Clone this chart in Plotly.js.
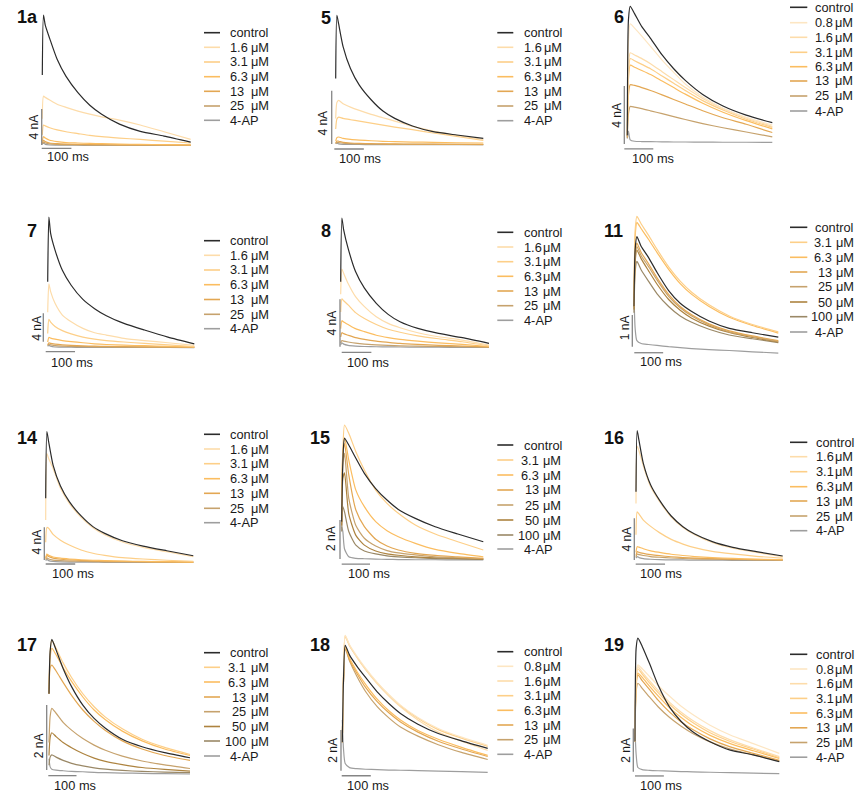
<!DOCTYPE html>
<html><head><meta charset="utf-8">
<script src="https://cdn.plot.ly/plotly-3.0.1.min.js"></script>
<style>html,body{margin:0;padding:0;background:#fff}#chart{width:856px;height:797px}</style>
</head><body><div id="chart"></div>
<script>
// time grid (ms) shared by all traces
const T = [0, 4, 10, 25, 50, 80, 120, 160, 200, 260, 330, 410, 500];

// ---- panel 1a (nA)
const labels1a = ['control','1.6','3.1','6.3','13','25','4-AP'];
const I1a = [
  [7.85, 14.5, 13.4, 11.9, 9.6, 7.7, 5.9, 4.5, 3.5, 2.4, 1.6, 1.07, 0.4],
  [3.0, 5.5, 5.37, 5.07, 4.6, 4.26, 3.85, 3.5, 3.2, 2.85, 2.3, 1.55, 0.7],
  [1.2, 2.3, 2.2, 2.0, 1.75, 1.55, 1.35, 1.15, 1.0, 0.85, 0.7, 0.5, 0.3],
  [0.5, 1.0, 0.85, 0.6, 0.45, 0.35, 0.3, 0.25, 0.22, 0.18, 0.15, 0.12, 0.1],
  [0.3, 0.6, 0.45, 0.3, 0.22, 0.18, 0.15, 0.13, 0.11, 0.1, 0.09, 0.08, 0.07],
  [0.2, 0.4, 0.3, 0.2, 0.15, 0.12, 0.1, 0.09, 0.08, 0.07, 0.06, 0.05, 0.05],
  [0.15, 0.3, 0.15, 0.08, 0.06, 0.05, 0.05, 0.04, 0.04, 0.03, 0.03, 0.03, 0.02]
];
// ---- panel 5
const labels5 = ['control','1.6','3.1','6.3','13','25','4-AP'];
const I5 = [
  [5.0, 9.75, 9.1, 7.4, 5.75, 4.5, 3.4, 2.55, 2.0, 1.43, 1.0, 0.75, 0.5],
  [2.0, 3.2, 3.35, 3.1, 2.85, 2.6, 2.3, 2.05, 1.8, 1.4, 1.05, 0.72, 0.4],
  [1.2, 1.95, 2.1, 2.0, 1.9, 1.8, 1.65, 1.5, 1.35, 1.15, 0.9, 0.65, 0.35],
  [0.3, 0.55, 0.6, 0.5, 0.42, 0.37, 0.32, 0.28, 0.25, 0.22, 0.2, 0.17, 0.15],
  [0.15, 0.3, 0.28, 0.2, 0.15, 0.12, 0.1, 0.09, 0.08, 0.07, 0.06, 0.05, 0.05],
  [0.1, 0.2, 0.18, 0.13, 0.1, 0.08, 0.07, 0.06, 0.05, 0.05, 0.04, 0.04, 0.03],
  [0.1, 0.15, 0.08, 0.05, 0.04, 0.04, 0.03, 0.03, 0.03, 0.02, 0.02, 0.02, 0.02]
];
// ---- panel 6
const labels6 = ['control','0.8','1.6','3.1','6.3','13','25','4-AP'];
const I6 = [
  [0.5, 8.5, 9.4, 8.9, 8.0, 7.2, 6.05, 5.1, 4.3, 3.33, 2.53, 1.9, 1.38],
  [0.5, 7.0, 8.2, 7.9, 7.35, 6.65, 5.7, 4.85, 4.05, 3.15, 2.38, 1.75, 1.22],
  [0.5, 5.0, 6.2, 6.05, 5.8, 5.45, 4.9, 4.35, 3.8, 3.05, 2.35, 1.7, 1.12],
  [0.5, 4.8, 5.8, 5.65, 5.4, 5.1, 4.6, 4.1, 3.6, 2.9, 2.25, 1.62, 1.06],
  [0.5, 4.4, 5.35, 5.2, 4.98, 4.7, 4.25, 3.8, 3.35, 2.72, 2.1, 1.52, 0.95],
  [0.4, 3.3, 4.0, 3.95, 3.8, 3.6, 3.3, 2.98, 2.67, 2.2, 1.72, 1.27, 0.7],
  [0.3, 2.0, 2.5, 2.45, 2.35, 2.2, 2.0, 1.8, 1.6, 1.32, 1.03, 0.74, 0.4],
  [0.3, 0.8, 0.2, 0.1, 0.08, 0.07, 0.06, 0.05, 0.05, 0.04, 0.03, 0.03, 0.02]
];
// ---- panel 7
const labels7 = ['control','1.6','3.1','6.3','13','25','4-AP'];
const I7 = [
  [9.3, 18.4, 16.1, 13.75, 10.9, 8.8, 6.8, 5.5, 4.5, 3.43, 2.49, 1.5, 0.55],
  [5.0, 9.0, 7.9, 6.25, 4.6, 3.66, 2.72, 2.1, 1.78, 1.31, 0.99, 0.7, 0.33],
  [2.0, 4.0, 3.6, 3.0, 2.4, 1.95, 1.5, 1.2, 1.0, 0.8, 0.6, 0.4, 0.15],
  [0.8, 1.45, 1.35, 1.2, 1.0, 0.85, 0.7, 0.55, 0.45, 0.35, 0.28, 0.2, 0.12],
  [0.4, 0.7, 0.6, 0.5, 0.4, 0.32, 0.26, 0.21, 0.18, 0.15, 0.12, 0.1, 0.07],
  [0.3, 0.5, 0.4, 0.3, 0.22, 0.18, 0.15, 0.13, 0.11, 0.1, 0.08, 0.07, 0.05],
  [0.2, 0.35, 0.2, 0.1, 0.07, 0.06, 0.05, 0.05, 0.04, 0.04, 0.03, 0.03, 0.02]
];
// ---- panel 8
const labels8 = ['control','1.6','3.1','6.3','13','25','4-AP'];
const I8 = [
  [5.55, 10.9, 9.9, 8.35, 6.4, 5.0, 3.73, 2.8, 2.18, 1.62, 1.2, 0.84, 0.36],
  [4.5, 6.6, 6.25, 5.4, 4.3, 3.45, 2.6, 2.04, 1.68, 1.26, 0.92, 0.64, 0.22],
  [3.0, 4.1, 3.95, 3.6, 2.95, 2.45, 1.95, 1.55, 1.3, 1.0, 0.75, 0.5, 0.15],
  [1.6, 2.27, 2.15, 1.95, 1.6, 1.35, 1.05, 0.85, 0.7, 0.55, 0.4, 0.28, 0.1],
  [0.9, 1.26, 1.18, 1.05, 0.85, 0.7, 0.55, 0.45, 0.36, 0.28, 0.2, 0.14, 0.07],
  [0.4, 0.6, 0.55, 0.48, 0.38, 0.3, 0.24, 0.19, 0.16, 0.13, 0.1, 0.08, 0.05],
  [0.25, 0.4, 0.3, 0.2, 0.14, 0.1, 0.08, 0.07, 0.06, 0.05, 0.04, 0.03, 0.03]
];
// ---- panel 11
const labels11 = ['control','3.1','6.3','13','25','50','100','4-AP'];
const I11 = [
  [1.5, 3.3, 3.7, 3.39, 3.05, 2.57, 2.0, 1.6, 1.34, 1.04, 0.81, 0.67, 0.53],
  [1.5, 3.9, 4.34, 4.1, 3.75, 3.3, 2.75, 2.3, 1.95, 1.55, 1.2, 0.93, 0.7],
  [1.5, 3.7, 4.15, 3.95, 3.62, 3.2, 2.67, 2.22, 1.88, 1.5, 1.16, 0.9, 0.66],
  [1.5, 3.1, 3.5, 3.2, 2.85, 2.4, 1.88, 1.5, 1.24, 0.95, 0.73, 0.57, 0.42],
  [1.5, 3.0, 3.39, 3.1, 2.76, 2.33, 1.82, 1.46, 1.2, 0.92, 0.7, 0.55, 0.4],
  [1.4, 2.9, 3.28, 3.0, 2.63, 2.2, 1.72, 1.38, 1.13, 0.88, 0.68, 0.52, 0.38],
  [1.3, 2.6, 2.92, 2.65, 2.3, 1.9, 1.5, 1.2, 1.0, 0.78, 0.6, 0.48, 0.36],
  [1.9, 0.8, 0.42, 0.33, 0.3, 0.27, 0.23, 0.2, 0.17, 0.14, 0.11, 0.07, 0.03]
];
// ---- panel 14
const labels14 = ['control','1.6','3.1','6.3','13','25','4-AP'];
const I14 = [
  [7.85, 16.0, 14.75, 11.9, 9.35, 7.44, 5.7, 4.4, 3.58, 2.68, 2.03, 1.46, 0.85],
  [5.2, 13.3, 12.7, 11.5, 9.07, 7.24, 5.53, 4.27, 3.41, 2.52, 1.87, 1.34, 0.73],
  [2.5, 4.3, 4.2, 3.45, 2.75, 2.15, 1.55, 1.15, 0.9, 0.62, 0.45, 0.3, 0.15],
  [0.6, 1.06, 0.9, 0.7, 0.55, 0.45, 0.36, 0.3, 0.25, 0.2, 0.16, 0.12, 0.08],
  [0.5, 0.9, 0.75, 0.55, 0.42, 0.34, 0.27, 0.22, 0.18, 0.15, 0.12, 0.1, 0.07],
  [0.35, 0.6, 0.45, 0.32, 0.25, 0.2, 0.16, 0.13, 0.11, 0.09, 0.08, 0.07, 0.05],
  [0.25, 0.4, 0.25, 0.15, 0.1, 0.08, 0.07, 0.06, 0.05, 0.05, 0.04, 0.03, 0.03]
];
// ---- panel 15
const labels15 = ['control','3.1','6.3','13','25','50','100','4-AP'];
const I15 = [
  [2.0, 5.0, 6.27, 5.93, 5.25, 4.48, 3.7, 3.11, 2.63, 2.17, 1.74, 1.37, 0.97],
  [2.0, 5.5, 6.96, 6.53, 5.59, 4.65, 3.62, 2.94, 2.43, 1.83, 1.37, 0.97, 0.55],
  [2.0, 5.5, 6.3, 5.16, 3.62, 2.77, 2.0, 1.54, 1.23, 0.89, 0.58, 0.38, 0.2],
  [2.0, 5.5, 6.0, 4.4, 2.6, 1.75, 1.1, 0.75, 0.55, 0.38, 0.27, 0.2, 0.12],
  [2.0, 5.0, 5.5, 3.2, 1.8, 1.15, 0.75, 0.52, 0.4, 0.3, 0.2, 0.15, 0.1],
  [1.8, 4.2, 4.5, 2.4, 1.3, 0.8, 0.5, 0.35, 0.28, 0.2, 0.15, 0.12, 0.08],
  [1.5, 2.77, 2.5, 1.5, 0.8, 0.5, 0.35, 0.25, 0.2, 0.15, 0.11, 0.09, 0.07],
  [1.74, 1.5, 0.6, 0.2, 0.12, 0.1, 0.08, 0.07, 0.06, 0.05, 0.05, 0.04, 0.04]
];
// ---- panel 16
const labels16 = ['control','1.6','3.1','6.3','13','25','4-AP'];
const I16 = [
  [6.63, 12.5, 11.6, 9.36, 7.28, 5.83, 4.3, 3.27, 2.56, 1.83, 1.28, 0.87, 0.45],
  [5.5, 11.0, 10.6, 9.1, 7.1, 5.7, 4.2, 3.2, 2.5, 1.75, 1.2, 0.8, 0.38],
  [2.5, 4.7, 4.5, 3.9, 3.3, 2.7, 2.05, 1.6, 1.25, 0.9, 0.65, 0.42, 0.25],
  [0.8, 1.35, 1.3, 1.15, 0.95, 0.8, 0.62, 0.5, 0.4, 0.3, 0.22, 0.15, 0.1],
  [0.5, 0.87, 0.8, 0.7, 0.58, 0.48, 0.38, 0.3, 0.25, 0.19, 0.15, 0.11, 0.08],
  [0.35, 0.64, 0.58, 0.5, 0.4, 0.33, 0.26, 0.21, 0.17, 0.14, 0.11, 0.08, 0.06],
  [0.25, 0.4, 0.3, 0.2, 0.14, 0.1, 0.08, 0.07, 0.06, 0.05, 0.04, 0.04, 0.03]
];
// ---- panel 17
const labels17 = ['control','3.1','6.3','13','25','50','100','4-AP'];
const I17 = [
  [2.5, 3.8, 4.17, 3.85, 3.28, 2.72, 2.15, 1.74, 1.44, 1.1, 0.87, 0.69, 0.53],
  [2.5, 3.8, 4.15, 3.9, 3.45, 3.0, 2.5, 2.1, 1.78, 1.42, 1.1, 0.85, 0.63],
  [2.5, 3.6, 3.9, 3.7, 3.3, 2.88, 2.4, 2.0, 1.7, 1.35, 1.05, 0.8, 0.6],
  [2.5, 3.3, 3.38, 3.2, 2.85, 2.45, 2.0, 1.65, 1.37, 1.05, 0.8, 0.6, 0.45],
  [1.0, 1.8, 2.05, 1.9, 1.62, 1.38, 1.12, 0.92, 0.76, 0.58, 0.43, 0.31, 0.2],
  [0.6, 1.15, 1.3, 1.18, 1.0, 0.84, 0.66, 0.52, 0.42, 0.32, 0.23, 0.17, 0.12],
  [0.3, 0.55, 0.62, 0.55, 0.45, 0.36, 0.28, 0.22, 0.18, 0.14, 0.11, 0.09, 0.07],
  [0.5, 0.25, 0.18, 0.15, 0.13, 0.11, 0.1, 0.08, 0.07, 0.06, 0.05, 0.04, 0.03]
];
// ---- panel 18
const labels18 = ['control','0.8','1.6','3.1','6.3','13','25','4-AP'];
const I18 = [
  [1.5, 4.5, 6.28, 5.79, 5.25, 4.69, 3.98, 3.41, 2.92, 2.39, 1.93, 1.57, 1.2],
  [1.5, 4.8, 6.77, 6.3, 5.75, 5.15, 4.45, 3.85, 3.33, 2.72, 2.18, 1.75, 1.35],
  [1.5, 4.8, 6.75, 6.25, 5.68, 5.08, 4.38, 3.78, 3.25, 2.6, 2.0, 1.55, 1.1],
  [1.5, 4.7, 6.7, 6.25, 5.7, 5.1, 4.42, 3.82, 3.3, 2.68, 2.12, 1.7, 1.3],
  [1.5, 4.5, 6.2, 5.65, 5.0, 4.35, 3.62, 3.05, 2.6, 2.08, 1.65, 1.25, 0.85],
  [1.5, 4.5, 6.2, 5.55, 4.9, 4.2, 3.5, 2.95, 2.5, 2.0, 1.55, 1.17, 0.8],
  [1.5, 4.4, 6.1, 5.5, 4.75, 4.0, 3.25, 2.7, 2.25, 1.8, 1.38, 1.0, 0.65],
  [2.6, 1.2, 0.45, 0.25, 0.2, 0.17, 0.15, 0.13, 0.12, 0.1, 0.08, 0.05, 0.02]
];
// ---- panel 19
const labels19 = ['control','0.8','1.6','3.1','6.3','13','25','4-AP'];
const I19 = [
  [1.5, 5.8, 6.26, 5.88, 5.1, 4.1, 3.08, 2.42, 1.95, 1.49, 1.1, 0.88, 0.57],
  [1.5, 4.6, 5.03, 4.85, 4.5, 4.08, 3.58, 3.12, 2.74, 2.25, 1.8, 1.4, 0.95],
  [1.5, 4.5, 4.95, 4.7, 4.3, 3.85, 3.3, 2.85, 2.47, 2.0, 1.57, 1.2, 0.8],
  [1.5, 4.4, 4.85, 4.6, 4.2, 3.75, 3.2, 2.75, 2.37, 1.9, 1.5, 1.15, 0.75],
  [1.5, 4.2, 4.65, 4.45, 4.05, 3.6, 3.05, 2.6, 2.22, 1.78, 1.4, 1.07, 0.72],
  [1.5, 4.1, 4.57, 4.3, 3.9, 3.4, 2.85, 2.4, 2.05, 1.62, 1.25, 0.95, 0.63],
  [1.5, 3.8, 4.18, 3.95, 3.55, 3.1, 2.6, 2.2, 1.87, 1.48, 1.15, 0.88, 0.6],
  [2.0, 0.9, 0.3, 0.2, 0.17, 0.15, 0.13, 0.11, 0.1, 0.08, 0.06, 0.04, 0.02]
];

// colours per condition
const COLORS = {
  'control':'#2b2b2b', '0.8':'#fde6c3', '1.6':'#fddcaa', '3.1':'#fdcf88',
  '6.3':'#fbbd60', '13':'#e3a753', '25':'#c6a26d', '50':'#ad833f',
  '100':'#9a8866', '4-AP':'#9e9e9e'
};

// layout geometry (pixels in the 856x797 page)
const W = 856, H = 797;
const FONT = '"Liberation Sans", Arial, Helvetica, sans-serif';
const panels = [
 {name:'1a', labels:labels1a, I:I1a, x0:42.3, x1:190.7, yb:145.7, sy:9, lab:[15,17.3],
  vb:{x:-2,y:0.08,len:4,text:'4 nA',tx:33.5,ty:127}, hb:{y:-0.29,x:-2,tx:45,ty:157},
  lg:{rows:[32.7,47.3,62,76.7,91.3,106,120.3], seg:[204,220], left:228.3, mu:249.3, right:false}},
 {name:'5', labels:labels5, I:I5, x0:335.7, x1:483.3, yb:145, sy:13.3, lab:[319,18],
  vb:{x:-13.5,y:0.075,len:4,text:'4 nA',tx:323.3,ty:123.3}, hb:{y:-0.3,x:-4.7,tx:336.7,ty:158},
  lg:{rows:[32.7,47.3,62,76.7,91.3,106,120.7], seg:[497.3,513.3], left:521.7, mu:541.7, right:false}},
 {name:'6', labels:labels6, I:I6, x0:627.3, x1:772.3, yb:142.7, sy:14.5, lab:[611.7,17.5],
  vb:{x:-10.3,y:-0.09,len:4,text:'4 nA',tx:616.7,ty:115}, hb:{y:-0.43,x:-10.3,tx:630,ty:158.3},
  lg:{rows:[7.3,22.7,37.3,52.3,66.7,81,96,111], seg:[790,807.3], left:813.3, mu:833.3, right:false}},
 {name:'7', labels:labels7, I:I7, x0:47.7, x1:194.3, yb:347.7, sy:7.1, lab:[25,231],
  vb:{x:-15,y:0.85,len:4,text:'4 nA',tx:36.7,ty:328}, hb:{y:-0.56,x:-6.8,tx:49.3,ty:362},
  lg:{rows:[240.7,255.3,270,284.7,299.5,314.3,328.7], seg:[204,220], left:228.3, mu:249.3, right:false}},
 {name:'8', labels:labels8, I:I8, x0:340.7, x1:489, yb:347.7, sy:11.9, lab:[319.3,231],
  vb:{x:-2.4,y:0.08,len:4,text:'4 nA',tx:331.7,ty:322.7}, hb:{y:-0.39,x:3.4,tx:345,ty:362},
  lg:{rows:[232.3,247,261.7,276.3,291,305.7,320.3], seg:[497.3,513.3], left:521.7, mu:540.7, right:false}},
 {name:'11', labels:labels11, I:I11, x0:634, x1:778.3, yb:354, sy:31.7, lab:[601.7,230.5],
  vb:{x:-5.9,y:0.23,len:1,text:'1 nA',tx:625,ty:328.3}, hb:{y:0.04,x:1,tx:638.3,ty:361.7},
  lg:{rows:[227.3,242.3,257.3,272,286.7,302,316.7,332], seg:[790,807.3], left:813.3, mu:834.4, right:true}},
 {name:'14', labels:labels14, I:I14, x0:45.7, x1:193.3, yb:562.7, sy:8.2, lab:[15,438.3],
  vb:{x:-4.7,y:0.33,len:4,text:'4 nA',tx:36.7,ty:541.7}, hb:{y:-0.16,x:0,tx:50,ty:573.8},
  lg:{rows:[434.3,449,463.7,478.7,493.3,508.3,522.7], seg:[204,220], left:228.3, mu:249.3, right:false}},
 {name:'15', labels:labels15, I:I15, x0:341.7, x1:483.3, yb:560.7, sy:19.5, lab:[308.3,438.3],
  vb:{x:-6,y:0.09,len:2,text:'2 nA',tx:331.7,ty:538.3}, hb:{y:-0.18,x:0,tx:346,ty:573.8},
  lg:{rows:[445,460,475,490,505,520,535,549], seg:[497.3,513.3], left:521.7, mu:541.3, right:true}},
 {name:'16', labels:labels16, I:I16, x0:636, x1:782.7, yb:560.7, sy:10.4, lab:[601.7,438.3],
  vb:{x:-5.8,y:0.07,len:4,text:'4 nA',tx:627.3,ty:539.3}, hb:{y:-0.32,x:-1,tx:638.3,ty:573.8},
  lg:{rows:[442.3,456.7,471.7,486.7,501,516,530.7], seg:[790,807.3], left:814, mu:833.3, right:false}},
 {name:'17', labels:labels17, I:I17, x0:49, x1:190, yb:775, sy:32.5, lab:[15,645],
  vb:{x:-8.2,y:0.15,len:2,text:'2 nA',tx:39.3,ty:746}, hb:{y:-0.02,x:-2.5,tx:51.7,ty:785},
  lg:{rows:[652.7,667.3,682,697,711.7,726.5,741,756], seg:[204,220], left:228.3, mu:248.7, right:true}},
 {name:'18', labels:labels18, I:I18, x0:342.3, x1:487.7, yb:772.7, sy:20.3, lab:[308.3,645],
  vb:{x:-4.5,y:0.1,len:2,text:'2 nA',tx:332.7,ty:750}, hb:{y:-0.15,x:-2,tx:345,ty:785},
  lg:{rows:[651.7,666.3,681,695.7,710.3,725,739.7,754.3], seg:[497.3,513.3], left:521.7, mu:540.7, right:false}},
 {name:'19', labels:labels19, I:I19, x0:635, x1:779.3, yb:774, sy:21.7, lab:[601.7,645],
  vb:{x:-5.9,y:0.1,len:2,text:'2 nA',tx:625.7,ty:750}, hb:{y:-0.09,x:0,tx:638.3,ty:785},
  lg:{rows:[654.3,669,683.7,698.4,713,727.8,742.5,757.2], seg:[790,807.3], left:814, mu:833.3, right:false}}
];

const px = v => v / W;
const py = v => 1 - v / H;
const TXT = '#1a1a1a', BAR = '#858585';

const traces = [], shapes = [], annotations = [];
const layout = {
  width: W, height: H, margin:{l:0,r:0,t:0,b:0},
  paper_bgcolor:'#ffffff', plot_bgcolor:'rgba(0,0,0,0)',
  showlegend:false, font:{family:FONT, color:TXT}
};

panels.forEach((p, i) => {
  const n = i + 1;
  const xa = n === 1 ? 'x' : 'x' + n, ya = n === 1 ? 'y' : 'y' + n;
  const pxPerMs = (p.x1 - p.x0) / 500;
  const dL = p.x0 - 30, dR = Math.min(W, p.x0 + 170);
  const dT = Math.max(0, p.yb - 150), dB = Math.min(H, p.yb + 20);
  layout[n === 1 ? 'xaxis' : 'xaxis' + n] = {domain:[dL / W, dR / W],
    range:[(dL - p.x0) / pxPerMs, (dR - p.x0) / pxPerMs], visible:false, fixedrange:true};
  layout[n === 1 ? 'yaxis' : 'yaxis' + n] = {domain:[1 - dB / H, 1 - dT / H],
    range:[(p.yb - dB) / p.sy, (p.yb - dT) / p.sy], visible:false, fixedrange:true};

  // traces: drawn from last condition to control so control is on top
  for (let k = p.labels.length - 1; k >= 0; k--) {
    traces.push({x:T, y:p.I[k], xaxis:xa, yaxis:ya, type:'scatter', mode:'lines',
      line:{color:COLORS[p.labels[k]], width:1.2, shape:'spline', smoothing:0.6},
      hoverinfo:'skip', showlegend:false});
  }
  // scale bars (data units)
  shapes.push({type:'line', xref:xa, yref:ya, x0:p.vb.x, x1:p.vb.x, y0:p.vb.y, y1:p.vb.y + p.vb.len,
    line:{color:BAR, width:1.3}});
  shapes.push({type:'line', xref:xa, yref:ya, x0:p.hb.x, x1:p.hb.x + 100, y0:p.hb.y, y1:p.hb.y,
    line:{color:BAR, width:1.3}});
  annotations.push({xref:'paper', yref:'paper', x:px(p.vb.tx), y:py(p.vb.ty), text:p.vb.text,
    textangle:-90, showarrow:false, xanchor:'center', yanchor:'middle', font:{size:12, color:TXT}});
  annotations.push({xref:'paper', yref:'paper', x:px(p.hb.tx), y:py(p.hb.ty), text:'100 ms',
    showarrow:false, xanchor:'left', yanchor:'middle', font:{size:12.8, color:TXT}});
  // panel label
  annotations.push({xref:'paper', yref:'paper', x:px(p.lab[0]), y:py(p.lab[1]), text:'<b>' + p.name + '</b>',
    showarrow:false, xanchor:'left', yanchor:'middle', font:{size:18, color:'#111'}});
  // legend
  p.labels.forEach((lb, k) => {
    const ry = p.lg.rows[k];
    shapes.push({type:'line', xref:'paper', yref:'paper', x0:px(p.lg.seg[0]), x1:px(p.lg.seg[1]),
      y0:py(ry), y1:py(ry), line:{color:COLORS[lb], width:1.6}});
    if (lb === 'control' || lb === '4-AP') {
      annotations.push({xref:'paper', yref:'paper', x:px(p.lg.left), y:py(ry), text:lb, showarrow:false,
        xanchor:'left', yanchor:'middle', font:{size:12.8, color:TXT}});
    } else {
      annotations.push({xref:'paper', yref:'paper', x:px(p.lg.right ? p.lg.mu - 0.5 : p.lg.left), y:py(ry),
        text:lb, showarrow:false, xanchor:p.lg.right ? 'right' : 'left', yanchor:'middle',
        font:{size:12.8, color:TXT}});
      annotations.push({xref:'paper', yref:'paper', x:px(p.lg.mu), y:py(ry), text:'μM', showarrow:false,
        xanchor:'left', yanchor:'middle', font:{size:12.8, color:TXT}});
    }
  });
});

layout.shapes = shapes;
layout.annotations = annotations;
Plotly.newPlot('chart', traces, layout, {staticPlot:true, displayModeBar:false});
</script>
</body></html>
